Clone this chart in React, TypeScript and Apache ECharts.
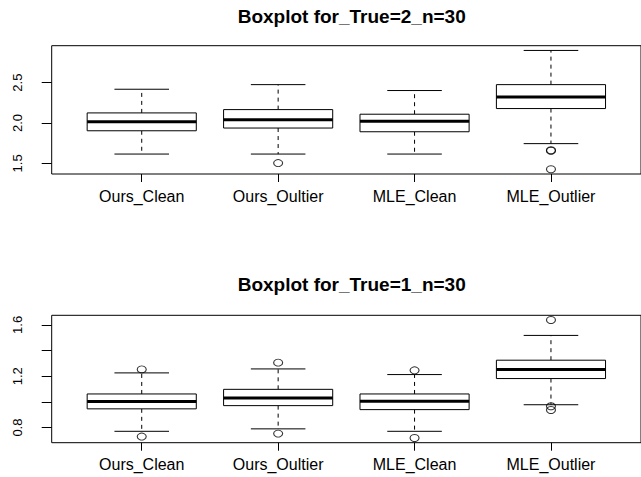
import React, { useEffect, useRef } from "react";
import * as echarts from "echarts";

// ---- data ----
const categories = ["Ours_Clean", "Ours_Oultier", "MLE_Clean", "MLE_Outlier"];
const titles = ["Boxplot for_True=2_n=30", "Boxplot for_True=1_n=30"];

// Panel 1: True = 2
const lowerWhisker2 = [1.616, 1.616, 1.616, 1.745];
const q1_2 = [1.904, 1.938, 1.892, 2.179];
const median2 = [2.017, 2.042, 2.021, 2.321];
const q3_2 = [2.125, 2.166, 2.109, 2.475];
const upperWhisker2 = [2.418, 2.475, 2.402, 2.898];
const outliers2: [number, number][] = [
  [2, 1.504],
  [4, 1.657],
  [4, 1.663],
  [4, 1.428],
];
const yTicks2 = [1.5, 2.0, 2.5];
const yLabels2 = [1.5, 2.0, 2.5];

// Panel 2: True = 1
const lowerWhisker1 = [0.771, 0.79, 0.771, 0.978];
const q1_1 = [0.946, 0.971, 0.94, 1.182];
const median1 = [1.004, 1.031, 1.005, 1.253];
const q3_1 = [1.062, 1.098, 1.062, 1.325];
const upperWhisker1 = [1.226, 1.257, 1.213, 1.518];
const outliers1: [number, number][] = [
  [1, 1.253],
  [1, 0.73],
  [2, 1.306],
  [2, 0.753],
  [3, 1.246],
  [3, 0.719],
  [4, 1.638],
  [4, 0.966],
  [4, 0.937],
];
const yTicks1 = [0.8, 1.0, 1.2, 1.4, 1.6];
const yLabels1 = [0.8, 1.2, 1.6];

const xPositions = [1, 2, 3, 4];

function boxRows(lo: number[], q1: number[], md: number[], q3: number[], hi: number[]) {
  return xPositions.map((x, i) => [x, lo[i], q1[i], md[i], q3[i], hi[i]]);
}

// R-style 4% axis extension
function rRange(vals: number[]): [number, number] {
  const lo = Math.min(...vals);
  const hi = Math.max(...vals);
  const d = (hi - lo) * 0.04;
  return [lo - d, hi + d];
}

const FONT = "Liberation Sans, Arial, Helvetica, sans-serif";

export default function App() {
  const ref = useRef<HTMLDivElement>(null);

  useEffect(() => {
    if (!ref.current) return;
    const chart = echarts.init(ref.current, undefined, { renderer: "svg" });

    const panels = [
      {
        rows: boxRows(lowerWhisker2, q1_2, median2, q3_2, upperWhisker2),
        outliers: outliers2,
        ticks: yTicks2,
        labels: yLabels2,
        range: rRange([...lowerWhisker2, ...upperWhisker2, ...outliers2.map((o) => o[1])]),
        top: 45.7,
        height: 128.3,
        titleTop: 7,
      },
      {
        rows: boxRows(lowerWhisker1, q1_1, median1, q3_1, upperWhisker1),
        outliers: outliers1,
        ticks: yTicks1,
        labels: yLabels1,
        range: rRange([...lowerWhisker1, ...upperWhisker1, ...outliers1.map((o) => o[1])]),
        top: 315.3,
        height: 127.4,
        titleTop: 274.5,
      },
    ];

    const gridLeft = 51.7;
    const gridWidth = 600;

    const renderBox = (params: any, api: any) => {
      const x = api.value(0);
      const lo = api.coord([x, api.value(1)]);
      const q1 = api.coord([x, api.value(2)]);
      const md = api.coord([x, api.value(3)]);
      const q3 = api.coord([x, api.value(4)]);
      const hi = api.coord([x, api.value(5)]);
      const bw = api.size([0.8, 0])[0];
      const cw = api.size([0.4, 0])[0];
      const cx = md[0];
      const dashed = { stroke: "#000", lineWidth: 1, lineDash: [4, 4], fill: null };
      const solid = { stroke: "#000", lineWidth: 1, fill: null };
      return {
        type: "group",
        children: [
          { type: "line", shape: { x1: cx, y1: q3[1], x2: cx, y2: hi[1] }, style: dashed },
          { type: "line", shape: { x1: cx, y1: q1[1], x2: cx, y2: lo[1] }, style: dashed },
          { type: "line", shape: { x1: cx - cw / 2, y1: hi[1], x2: cx + cw / 2, y2: hi[1] }, style: solid },
          { type: "line", shape: { x1: cx - cw / 2, y1: lo[1], x2: cx + cw / 2, y2: lo[1] }, style: solid },
          {
            type: "rect",
            shape: { x: cx - bw / 2, y: q3[1], width: bw, height: q1[1] - q3[1] },
            style: { fill: "#fff", stroke: "#000", lineWidth: 1 },
          },
          {
            type: "line",
            shape: { x1: cx - bw / 2, y1: md[1], x2: cx + bw / 2, y2: md[1] },
            style: { stroke: "#000", lineWidth: 3 },
          },
        ],
      };
    };

    const option: any = {
      animation: false,
      backgroundColor: "#fff",
      title: panels.map((p, i) => ({
        text: titles[i],
        left: 351.7,
        top: p.titleTop,
        textAlign: "center",
        padding: 0,
        textStyle: { fontFamily: FONT, fontSize: 19, fontWeight: "bold", color: "#000" },
      })),
      grid: panels.map((p) => ({
        left: gridLeft,
        top: p.top,
        width: gridWidth,
        height: p.height,
        show: true,
        borderColor: "#000",
        borderWidth: 1,
        backgroundColor: "transparent",
      })),
      xAxis: panels.map((p, i) => ({
        type: "value",
        gridIndex: i,
        min: 0.34,
        max: 4.66,
        axisLine: { show: false },
        splitLine: { show: false },
        axisTick: {
          show: true,
          length: 8,
          customValues: xPositions,
          lineStyle: { color: "#000", width: 1 },
        },
        axisLabel: {
          customValues: xPositions,
          formatter: (v: number) => categories[Math.round(v) - 1] ?? "",
          fontFamily: FONT,
          fontSize: 16,
          color: "#000",
          margin: 14,
        },
      })),
      yAxis: panels.map((p, i) => ({
        type: "value",
        gridIndex: i,
        min: p.range[0],
        max: p.range[1],
        axisLine: { show: false },
        splitLine: { show: false },
        axisTick: {
          show: true,
          length: 10,
          customValues: p.ticks,
          lineStyle: { color: "#000", width: 1 },
        },
        axisLabel: {
          customValues: p.labels,
          formatter: (v: number) => v.toFixed(1),
          rotate: 90,
          fontFamily: FONT,
          fontSize: 13,
          color: "#000",
          margin: 28,
        },
      })),
      series: panels.flatMap((p, i) => [
        {
          type: "custom",
          xAxisIndex: i,
          yAxisIndex: i,
          renderItem: renderBox,
          encode: { x: 0, y: [1, 2, 3, 4, 5] },
          data: p.rows,
          silent: true,
          clip: false,
        },
        {
          type: "scatter",
          xAxisIndex: i,
          yAxisIndex: i,
          data: p.outliers,
          symbol: "circle",
          symbolSize: [9, 7],
          itemStyle: { color: "transparent", borderColor: "#000", borderWidth: 1 },
          silent: true,
          z: 5,
        },
      ]),
    };

    chart.setOption(option);
    return () => chart.dispose();
  }, []);

  return (
    <div
      ref={ref}
      style={{ position: "fixed", left: 0, top: 0, width: 641, height: 477, background: "#fff" }}
    />
  );
}
